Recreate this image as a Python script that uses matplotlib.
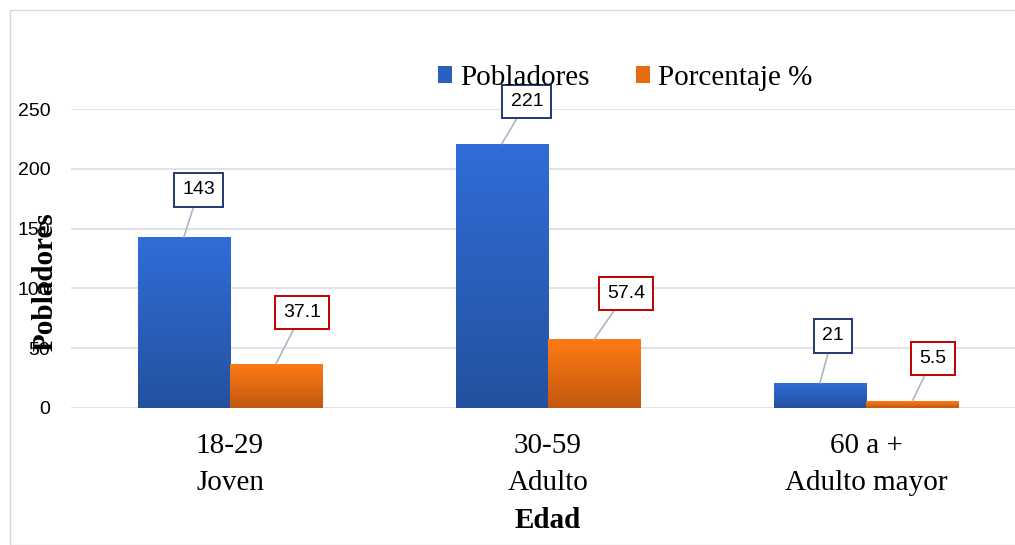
import numpy as np
import matplotlib
matplotlib.use("Agg")
import matplotlib.pyplot as plt
from matplotlib.colors import LinearSegmentedColormap
from matplotlib.patches import Rectangle

# Data
categorias = ["18-29\nJoven", "30-59\nAdulto", "60 a +\nAdulto mayor"]
pobladores = [143, 221, 21]
porcentaje = [37.1, 57.4, 5.5]
serie_nombres = ["Pobladores", "Porcentaje %"]
y_ticks = [0, 50, 100, 150, 200, 250]

# label box offsets (pixels) relative to bar top centre
offs_pob = [(15, 47), (25, 42), (13, 47)]
offs_por = [(26, 51), (32, 46), (21, 43)]

serif = "Liberation Serif"
sans = "Liberation Sans"

fig = plt.figure(figsize=(10.15, 5.45), dpi=100)
ax = fig.add_axes([71 / 1015, 1 - 408 / 545, (1025 - 71) / 1015, 299 / 545])

x = np.arange(len(categorias))
w = 0.29

blue_cmap = LinearSegmentedColormap.from_list("b", ["#24519F", "#306DD8"])
orange_cmap = LinearSegmentedColormap.from_list("o", ["#C2580F", "#FF7B15"])
grad = np.linspace(0, 1, 256).reshape(-1, 1)

b1 = ax.bar(x - w / 2, pobladores, w, color="#2A5FBF", label=serie_nombres[0], zorder=2)
b2 = ax.bar(x + w / 2, porcentaje, w, color="#E86B12", label=serie_nombres[1], zorder=2)

for bars, cmap in [(b1, blue_cmap), (b2, orange_cmap)]:
    for r in bars:
        x0, h = r.get_x(), r.get_height()
        im = ax.imshow(grad, extent=(x0, x0 + r.get_width(), 0, h), origin="lower",
                       aspect="auto", cmap=cmap, zorder=2.1)
        im.set_clip_path(r)

ax.set_xlim(-0.5, 2.5)
ax.set_ylim(0, 250)
ax.set_yticks(y_ticks)
ax.set_xticks(x)
ax.set_xticklabels(categorias, fontfamily=serif, fontsize=21, linespacing=1.55)
ax.tick_params(axis="x", length=0, pad=18)
ax.tick_params(axis="y", length=0, pad=15, labelsize=14)
for t in ax.get_yticklabels():
    t.set_fontfamily(sans)
ax.grid(axis="y", color="#D9DDE3", linewidth=1.2, zorder=0)
ax.set_axisbelow(True)
for s in ax.spines.values():
    s.set_visible(False)

# data labels with leader lines
for bars, vals, offs, ec in [(b1, pobladores, offs_pob, "#1F3A73"),
                             (b2, porcentaje, offs_por, "#C00000")]:
    for r, v, (dx, dy) in zip(bars, vals, offs):
        ax.annotate(f"{v:g}", xy=(r.get_x() + r.get_width() / 2, r.get_height()),
                    xytext=(dx, dy), textcoords="offset pixels",
                    ha="center", va="center", fontsize=14, fontfamily=sans,
                    bbox=dict(boxstyle="square,pad=0.42", fc="white", ec=ec, lw=1.4),
                    arrowprops=dict(arrowstyle="-", color="#A9B7C9", lw=1.2,
                                    shrinkA=0, shrinkB=0),
                    annotation_clip=False, zorder=5)

ax.set_xlabel("Edad", fontfamily=serif, fontsize=21, fontweight="bold", labelpad=8)
fig.text(45 / 1015, 1 - 282 / 545, "Pobladores", rotation=90, ha="center", va="center",
         fontfamily=serif, fontsize=21, fontweight="bold")

leg = fig.legend(handles=[b1, b2], labels=serie_nombres, loc="center",
                 bbox_to_anchor=(625 / 1015, 1 - 78 / 545), ncol=2, frameon=False,
                 prop={"family": serif, "size": 21}, handlelength=0.5, handleheight=0.5,
                 handletextpad=0.25, columnspacing=1.6)
leg.set_zorder(10)

# light chart frame
fig.patches.append(Rectangle((10 / 1015, 0), 1.0, 1 - 10 / 545, transform=fig.transFigure,
                             fill=False, ec="#D9D9D9", lw=1, zorder=0))

fig.savefig("out.png", dpi=100)
